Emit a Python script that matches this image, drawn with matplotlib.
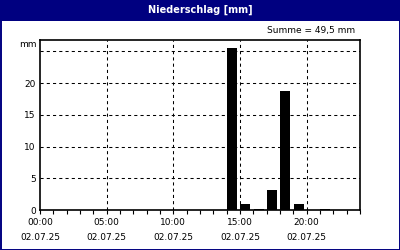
import matplotlib
matplotlib.use('Agg')
import matplotlib.pyplot as plt
from matplotlib.patches import Rectangle
from matplotlib.ticker import MultipleLocator

# Niederschlag pro Stunde am 02.07.25
hours = [14, 15, 16, 17, 18, 19, 21]
rain_mm = [25.5, 0.9, 0.2, 3.1, 18.7, 0.9, 0.2]
major_hours = [0, 5, 10, 15, 20]
date_label = '02.07.25'
title = 'Niederschlag [mm]'
total_text = 'Summe = 49,5 mm'

navy = '#000080'

fig = plt.figure(figsize=(4, 2.5), dpi=100)
fig.patch.set_facecolor('white')

# Titelleiste und Rahmen
fig.patches.append(Rectangle((0, 1 - 21 / 250), 1, 21 / 250, transform=fig.transFigure,
                             facecolor=navy, edgecolor='none', zorder=0))
fig.patches.append(Rectangle((0.5 / 400, 0.5 / 250), 399 / 400, 249 / 250, transform=fig.transFigure,
                             facecolor='none', edgecolor=navy, linewidth=1.4, zorder=0))
fig.text(0.5, 1 - 10 / 250, title, color='white', fontsize=7, fontweight='bold',
         ha='center', va='center')
fig.text(355 / 400, 1 - 31 / 250, total_text, color='black', fontsize=6.5,
         ha='right', va='center')
fig.text(37 / 400, 1 - 45 / 250, 'mm', color='black', fontsize=6.5,
         ha='right', va='center')

ax = fig.add_axes([40 / 400, 1 - 210 / 250, 320 / 400, 170 / 250])
ax.bar([h + 0.03 for h in hours], rain_mm, width=0.75, align='edge',
       color='black', zorder=3)

ax.set_xlim(0, 24)
ax.set_ylim(0, 26.8)
ax.set_xticks(major_hours)
ax.set_xticklabels([f'{h:02d}:00\n{date_label}' for h in major_hours], linespacing=1.75)
ax.xaxis.set_minor_locator(MultipleLocator(1))
ax.set_yticks([0, 5, 10, 15, 20])
ax.tick_params(axis='x', which='both', direction='out', length=3, width=0.8,
               labelsize=6.5, pad=3)
ax.tick_params(axis='y', length=0, labelsize=6.5, pad=3)

grid_style = dict(color='black', linewidth=0.75, linestyle=(0, (3, 3)), zorder=1)
for h in major_hours[1:]:
    ax.axvline(h, **grid_style)
for v in [5, 10, 15, 20, 25]:
    ax.axhline(v, **grid_style)

for side in ax.spines.values():
    side.set_linewidth(1.2)
    side.set_color('black')

fig.savefig('out.png', dpi=100)
